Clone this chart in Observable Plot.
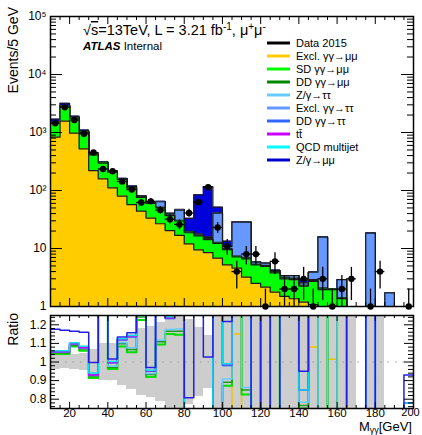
<!DOCTYPE html>
<html><head><meta charset="utf-8">
<script src="https://cdn.jsdelivr.net/npm/d3@7"></script>
<script src="https://cdn.jsdelivr.net/npm/@observablehq/plot@0.6"></script>
<style>
body{margin:0;background:#fff;}
#wrap{position:relative;width:422px;height:435px;overflow:hidden;background:#fff;font-family:"Liberation Sans",Arial,Helvetica,sans-serif;}
#main,#ratio{position:absolute;left:0;}
#main{top:0}
#ratio{top:310px}
#ov{position:absolute;left:0;top:0;pointer-events:none;font-family:"Liberation Sans",Arial,Helvetica,sans-serif;}
</style></head>
<body><div id="wrap"><div id="main"></div><div id="ratio"></div><svg id="ov" width="422" height="435"></svg></div>
<script>
// ---- bins (lower edges, GeV) ----
const binLow = [10,15,20,25,30,35,40,45,50,55,60,65,70,75,80,85,90,95,100,105,110,115,120,125,130,135,140,145,150,155,160,165,170,175,180,185,190,195];
const binWidth = 5;
// ---- data (events / 5 GeV) ----
const dataCounts = [1445,2730,1640,950,452,235,215,143,104,62,65,46,32,26,41,63,114,23,11,4,8,8,1,6,2,2,3,1,3,1,2,3,0,1,4,0,0,1];
// ---- MC components (stack order bottom -> top) ----
const exclMuMu = [830,1570,975,522,221,159,111,80,57,44,33.5,26.7,20.4,16.8,12,9.5,8.5,6.8,5.2,4.6,3.2,2.5,2.15,1.77,1.49,1.36,1.19,1.08,0.98,1.015,0.9,0.8,0.7,0.65,0.55,0.5,0.45,0.4];
const sdMuMu   = [677,1278,801,486,192,138,96,75,52.5,32,26.3,23.6,16.4,13,6.7,7,5.7,5.5,4.4,2.6,3.4,2.7,2.75,2.03,1.51,1.54,1.06,1.62,0.97,0.935,0.47,0.05,0.05,0.05,0.05,0.05,0.05,0.05];
const ddMuMu   = [10,18,12,8,4,3,2,2,1.5,1,0.8,0.7,0.5,0.5,0.3,0.3,0.3,0.2,0.2,0.1,0.2,0.1,0.1,0.1,0.1,0.1,0.05,0.1,0.05,0.05,0.03,0,0,0,0,0,0,0];
const zTauTau  = [6,10,9,4,2,2,1,1,1,0.5,0.4,0.4,0.3,0.3,0.2,0.3,0.3,0.3,0.2,0.1,0.1,0.1,0.1,0.1,0.1,0.1,0.05,0.1,0.1,0,0,0,0,0,0,0,0,0];
const exclTauTau = [2,4,3,2,1,2,4,2,6,1.5,0.8,12.6,1.9,15.4,0.3,0.4,0.7,27.8,0.8,21,21.5,0.4,0.5,0.2,0.2,0.3,0.2,1.0,13.6,0,1.5,0,0,17.7,0,1.17,0,0.33];
const ddTauTau = [0.5,0.8,0.6,0.4,0.3,0.2,0.2,0.1,0.1,0.1,0,0,0,0,0,0,0,0,0,0,0,0,0,0,0,0,0,0,0,0,0,0,0,0,0,0,0,0];
const ttbar    = [0,0,0,0.1,0.2,0.2,0.3,0.2,0.2,0.2,0.1,0.1,0.1,0.1,0.1,0.1,0.1,0.1,0.1,0.1,0,0,0,0,0,0,0,0,0,0,0,0,0,0,0,0,0,0];
const qcd      = [7,15,10,8,5,2,1,0.5,0.5,0.5,0.2,0,0.2,0.2,0.1,0.1,0.1,0,0,0,0,0,0,0,0,0,0,0,0,0,0,0,0,0,0,0,0,0];
const zMuMu    = [166,299,101,72,25,10,3,1.5,1.5,1.5,1,1,0.9,0.8,13.4,66.4,101.4,10.9,2.5,0,0,0,0,0,0,0,0.3,0,0,0,0,0,0,0,0,0,0,0.15];
// ---- ratio panel grey band half-widths ----
const bandHalf = [0.04,0.035,0.04,0.045,0.067,0.1,0.1,0.125,0.15,0.18,0.19,0.21,0.26,0.29,0.23,0.185,0.14,0.3,0.45,1,0.5,0.5,1,0.6,1,1,0.8,1,0.8,1,1,0.8,0,1,0.7,0,0,0];
// ---- names / colours ----
const layerNames = ["Excl. γγ→μμ","SD γγ→μμ","DD γγ→μμ","Z/γ→ττ","Excl. γγ→ττ","DD γγ→ττ","tt̄","QCD multijet","Z/γ→μμ"];
const layerFill  = ["#ffcc00","#00ff00","#008800","#66ccff","#6699ff","#3366ff","#cc00ff","#00ffff","#0000dd"];
const layerLine  = ["#f2c200","#00dd00","#1f9a1f","#66ccff","#6699ff","#3366ff","#cc00ff","#00e0ee","#2020e6"];
const layerVals  = [exclMuMu,sdMuMu,ddMuMu,zTauTau,exclTauTau,ddTauTau,ttbar,qcd,zMuMu];
// ---- ticks ----
const xMajor = [20,40,60,80,100,120,140,160,180,200];
const xTickLabels = ["20","40","60","80","100","120","140","160","180","200"];
const yMajor = [1,10,100,1000,10000,100000];
const yTickLabels = ["1","10","10²","10³","10⁴","10⁵"];
const rMajor = [0.8,0.9,1.0,1.1,1.2];
const rTickLabels = ["0.8","0.9","1","1.1","1.2"];

const n = binLow.length;
const xMinor = []; for (let v = 10; v <= 200; v += 5) if (!xMajor.includes(v)) xMinor.push(v);
const yMinor = []; for (let d = 1; d < 100000; d *= 10) for (let m = 2; m <= 9; m++) yMinor.push(m*d);
const rMinor = []; for (let k = 38; k <= 62; k++) { const v = k/50; if (k % 5 !== 0) rMinor.push(v); }

let run = new Array(n).fill(0);
const cum = layerVals.map(vals => { run = run.map((v,i) => v + vals[i]); return run.slice(); });
function stepRows(vals){ const rows = binLow.map((x,i)=>({x, y: vals[i]})); rows.push({x: binLow[n-1]+binWidth, y: vals[n-1]}); return rows; }

const FLOOR = 0.01;
const W = 422, ML = 50, MR = 9;
const FW = W - ML - MR;
const H1 = 310, MT1 = 16, MB1 = 4, FH1 = H1 - MT1 - MB1;
const H2 = 125, MT2 = 5, MB2 = 27, FH2 = H2 - MT2 - MB2;

// ---------- main panel ----------
const mainMarks = [];
for (let k = layerVals.length - 1; k >= 0; k--) {
  const rows = stepRows(cum[k].map(v => Math.max(v, FLOOR)));
  mainMarks.push(Plot.areaY(rows, {x:"x", y1: FLOOR, y2:"y", curve:"step-after", fill: layerFill[k], clip:true}));
  mainMarks.push(Plot.lineY(rows, {x:"x", y:"y", curve:"step-after", stroke:"#1a1a1a", strokeWidth:1.2, clip:true}));
}
const pts = binLow.map((x,i)=>({xc: x+binWidth/2, lo: x, hi: x+binWidth, n: dataCounts[i]})).filter(d => d.n > 0);
mainMarks.push(
  Plot.ruleX(pts, {x:"xc", y1: d => Math.max(d.n - Math.sqrt(d.n), FLOOR), y2: d => d.n + Math.sqrt(d.n), stroke:"black", strokeWidth:1.3, clip:true}),
  Plot.ruleY(pts, {y:"n", x1:"lo", x2:"hi", stroke:"black", strokeWidth:1.3, clip:true}),
  Plot.dot(pts, {x:"xc", y:"n", r:3.2, fill:"black", stroke:null}),
  Plot.tickY(yMajor, {y:d=>d, insetRight: FW-12, stroke:"black"}),
  Plot.tickY(yMajor, {y:d=>d, insetLeft: FW-12, stroke:"black"}),
  Plot.tickY(yMinor, {y:d=>d, insetRight: FW-6, stroke:"black"}),
  Plot.tickY(yMinor, {y:d=>d, insetLeft: FW-6, stroke:"black"}),
  Plot.tickX(xMajor, {x:d=>d, insetTop: FH1-8, stroke:"black"}),
  Plot.tickX(xMajor, {x:d=>d, insetBottom: FH1-8, stroke:"black"}),
  Plot.tickX(xMinor, {x:d=>d, insetTop: FH1-4, stroke:"black"}),
  Plot.tickX(xMinor, {x:d=>d, insetBottom: FH1-4, stroke:"black"}),
  Plot.text(yMajor, {y:d=>d, text:(d,i)=>yTickLabels[i], frameAnchor:"left", textAnchor:"end", dx:-4, fontSize:12, fill:"black"}),
  Plot.frame({stroke:"black", strokeWidth:1.5})
);
const mainPlot = Plot.plot({
  width: W, height: H1, marginLeft: ML, marginRight: MR, marginTop: MT1, marginBottom: MB1,
  style: {fontFamily:"Liberation Sans, Arial, sans-serif", background:"transparent", overflow:"visible"},
  x: {domain:[10,200], axis:null},
  y: {type:"log", domain:[1,100000], axis:null},
  marks: mainMarks
});
document.getElementById("main").appendChild(mainPlot);

// ---------- ratio panel ----------
const band = binLow.map((x,i)=>({x1:x, x2:x+binWidth, b: bandHalf[i]})).filter(d => d.b > 0);
const ratioMarks = [
  Plot.rect(band, {x1:"x1", x2:"x2", y1:d=>1-d.b, y2:d=>1+d.b, fill:"#cdcdcd", inset:0, shapeRendering:"crispEdges", clip:true}),
  Plot.ruleY([1], {stroke:"#999", strokeDasharray:"1.5,6", strokeWidth:1})
];
for (let k = 0; k < layerVals.length; k++) {
  const rows = stepRows(cum[k].map((v,i) => dataCounts[i] > 0 ? v / dataCounts[i] : 0));
  ratioMarks.push(Plot.line(rows, {x:"x", y:"y", curve:"step-after", stroke: layerLine[k], strokeWidth: k===1 ? 2 : 1.5, clip:true}));
}
const xLabelIdx = xMajor.map((d,i)=>i);
ratioMarks.push(
  Plot.tickY(rMajor, {y:d=>d, insetRight: FW-9, stroke:"black"}),
  Plot.tickY(rMajor, {y:d=>d, insetLeft: FW-9, stroke:"black"}),
  Plot.tickY(rMinor, {y:d=>d, insetRight: FW-5, stroke:"black"}),
  Plot.tickY(rMinor, {y:d=>d, insetLeft: FW-5, stroke:"black"}),
  Plot.tickX(xMajor, {x:d=>d, insetTop: FH2-6, stroke:"black"}),
  Plot.tickX(xMajor, {x:d=>d, insetBottom: FH2-6, stroke:"black"}),
  Plot.tickX(xMinor, {x:d=>d, insetTop: FH2-3, stroke:"black"}),
  Plot.tickX(xMinor, {x:d=>d, insetBottom: FH2-3, stroke:"black"}),
  Plot.text(rMajor, {y:d=>d, text:(d,i)=>rTickLabels[i], frameAnchor:"left", textAnchor:"end", dx:-4, fontSize:12, fill:"black"}),
  Plot.text(xLabelIdx.slice(0,-1), {x:i=>xMajor[i], text:i=>xTickLabels[i], frameAnchor:"bottom", lineAnchor:"top", dy:0, fontSize:11.5, fill:"black"}),
  Plot.text(xLabelIdx.slice(-1), {x:i=>xMajor[i], text:i=>xTickLabels[i], frameAnchor:"bottom", lineAnchor:"top", dy:0, dx:-3, fontSize:11, fill:"black"}),
  Plot.frame({stroke:"black", strokeWidth:1.5})
);
const ratioPlot = Plot.plot({
  width: W, height: H2, marginLeft: ML, marginRight: MR, marginTop: MT2, marginBottom: MB2,
  style: {fontFamily:"Liberation Sans, Arial, sans-serif", background:"transparent", overflow:"visible"},
  x: {domain:[10,200], axis:null},
  y: {domain:[0.75,1.25], axis:null},
  marks: ratioMarks
});
document.getElementById("ratio").appendChild(ratioPlot);

// ---------- text overlay (title, labels, legend) ----------
const legendNames = ["Data 2015"].concat(layerNames);
const legendColors = ["#000000","#ffcc00","#00ff00","#008800","#66ccff","#6699ff","#3366ff","#cc00ff","#00ffff","#0000cc"];
let s = "";
s += `<text transform="translate(18,7) rotate(-90)" text-anchor="end" font-size="14">Events/5 GeV</text>`;
s += `<text transform="translate(18,313) rotate(-90)" text-anchor="end" font-size="14">Ratio</text>`;
s += `<text x="412" y="431" text-anchor="end" font-size="13">M<tspan dy="1.5" font-size="9">γγ</tspan><tspan dy="-1.5">[GeV]</tspan></text>`;
s += `<text x="83" y="35" font-size="14.5">√<tspan text-decoration="overline">s</tspan>=13TeV, L = 3.21 fb<tspan dy="-5" font-size="10">-1</tspan><tspan dy="5">, μ</tspan><tspan dy="-5" font-size="10">+</tspan><tspan dy="5">μ</tspan><tspan dy="-5" font-size="10">-</tspan></text>`;
s += `<text x="83" y="50" font-size="11.5"><tspan font-weight="bold" font-style="italic">ATLAS</tspan> Internal</text>`;
legendNames.forEach((name, i) => {
  const y = 43 + i*13;
  s += `<line x1="267" x2="290" y1="${y}" y2="${y}" stroke="${legendColors[i]}" stroke-width="3"/>`;
  s += `<text x="296" y="${y}" dy="0.36em" font-size="11">${name}</text>`;
});
document.getElementById("ov").innerHTML = s;
</script>
</body></html>
